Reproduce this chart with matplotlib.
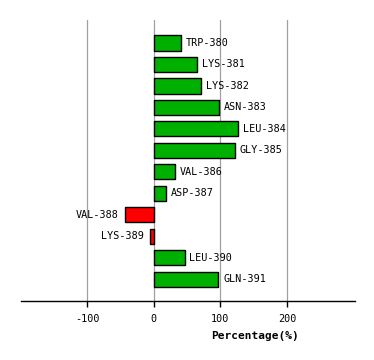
import matplotlib
matplotlib.use("Agg")
import matplotlib.pyplot as plt

residues = ["TRP-380", "LYS-381", "LYS-382", "ASN-383", "LEU-384", "GLY-385",
            "VAL-386", "ASP-387", "VAL-388", "LYS-389", "LEU-390", "GLN-391"]
values = [40, 65, 71, 98, 127, 122, 32, 18, -44, -6, 46, 97]
xticks = [-100, 0, 100, 200]

W, H = 374, 360
fig = plt.figure(figsize=(W / 100, H / 100), dpi=100)
ax = fig.add_axes([20.7 / W, 1 - 300.5 / H, (355 - 20.7) / W, (300.5 - 20) / H])

pos = list(range(len(residues)))
colors = ["#00b000" if v >= 0 else "#ff0000" for v in values]
ax.barh(pos, values, height=0.7, color=colors, edgecolor="black", linewidth=1.0, zorder=3)

ax.set_xlim(-200, 302)
ax.set_ylim(11.98, -1.07)

for x in xticks:
    ax.axvline(x, color="#a0a0a0", linewidth=0.9, zorder=1)

font = dict(family="DejaVu Sans Mono", size=7.3)
for p, v, r in zip(pos, values, residues):
    if v >= 0:
        ax.annotate(r, (v, p), xytext=(3.5, 0), textcoords="offset points",
                    ha="left", va="center", **font)
    else:
        ax.annotate(r, (v, p), xytext=(-4.5, 0), textcoords="offset points",
                    ha="right", va="center", **font)

for s in ["top", "right", "left"]:
    ax.spines[s].set_visible(False)
ax.spines["bottom"].set_linewidth(1.0)
ax.set_yticks([])
ax.set_xticks(xticks)
ax.set_xticklabels([str(x) for x in xticks], fontdict=font)
ax.tick_params(axis="x", length=4, width=1.0, pad=5.5)
ax.text(0.70, -0.125, "Percentage(%)", transform=ax.transAxes, ha="center", va="center",
        family="DejaVu Sans Mono", size=8, weight="bold")

fig.savefig("out.png", dpi=100)
